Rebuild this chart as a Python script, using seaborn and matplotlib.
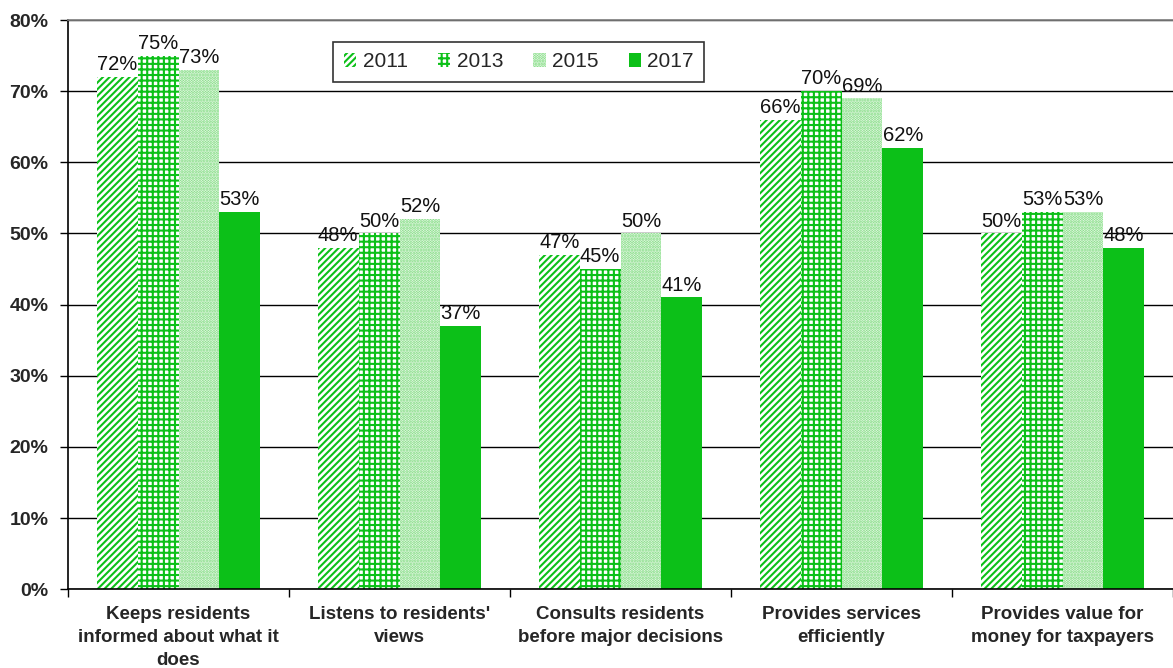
import matplotlib
matplotlib.use("Agg")
import matplotlib.pyplot as plt
import seaborn as sns
import pandas as pd
from matplotlib.ticker import MultipleLocator, FuncFormatter

categories = [
    "Keeps residents\ninformed about what it\ndoes",
    "Listens to residents'\nviews",
    "Consults residents\nbefore major decisions",
    "Provides services\nefficiently",
    "Provides value for\nmoney for taxpayers",
]
years = ["2011", "2013", "2015", "2017"]
v2011 = [72, 48, 47, 66, 50]
v2013 = [75, 50, 45, 70, 53]
v2015 = [73, 52, 50, 69, 53]
v2017 = [53, 37, 41, 62, 48]

rows = []
for yr, vals in zip(years, [v2011, v2013, v2015, v2017]):
    for cat, v in zip(categories, vals):
        rows.append({"category": cat, "year": yr, "value": v})
df = pd.DataFrame(rows)

sns.set_theme(style="white")
plt.rcParams["font.family"] = ["Liberation Sans", "DejaVu Sans"]
plt.rcParams["hatch.linewidth"] = 1.5

green = "#0cc018"
fig = plt.figure(figsize=(11.73, 6.68), dpi=100)
ax = fig.add_axes([0.058, 0.118, 0.942, 0.852])

sns.barplot(data=df, x="category", y="value", hue="year", order=categories,
            hue_order=years, width=0.74, gap=0, palette=[green] * 4,
            saturation=1, ax=ax, legend=False)

styles = {
    "2011": dict(face="white", edge=green, hatch="/////", lw=0),
    "2013": dict(face="white", edge=green, hatch="+++", lw=0),
    "2015": dict(face="#fafefa", edge="#74d874", hatch="......", lw=0),
    "2017": dict(face=green, edge=green, hatch=None, lw=0),
}
for cont, yr in zip(ax.containers, years):
    st = styles[yr]
    for p in cont.patches:
        p.set_facecolor(st["face"])
        p.set_edgecolor(st["edge"])
        p.set_hatch(st["hatch"])
        p.set_linewidth(st["lw"])
    ax.bar_label(cont, fmt="%d%%", padding=2, fontsize=14.5, color="#111111")

ax.set_ylim(0, 80)
ax.set_xlim(-0.5, len(categories) - 0.5)
ax.yaxis.set_major_locator(MultipleLocator(10))
ax.yaxis.set_major_formatter(FuncFormatter(lambda v, _: f"{int(v)}%"))
ax.grid(axis="y", color="black", linewidth=1)
ax.set_axisbelow(True)
ax.set_xlabel("")
ax.set_ylabel("")

for s in ["left", "bottom"]:
    ax.spines[s].set_color("black")
    ax.spines[s].set_linewidth(1.2)
ax.spines["top"].set_color("#808080")
ax.spines["right"].set_visible(False)

ax.tick_params(axis="y", left=True, length=6, width=1, color="black",
               labelsize=14, pad=8)
ax.set_xticks(range(len(categories)))
ax.set_xticklabels(categories, fontsize=13.5, fontweight="bold",
                   linespacing=1.45)
ax.set_xticks([i - 0.5 for i in range(len(categories) + 1)], minor=True)
ax.tick_params(axis="x", which="major", bottom=False, pad=6)
ax.tick_params(axis="x", which="minor", bottom=True, length=6, width=1,
               color="black")
for lab in ax.get_yticklabels():
    lab.set_fontweight("bold")

leg = ax.legend(ax.containers, years, loc="upper center",
                bbox_to_anchor=(0.408, 0.98), ncol=4, fontsize=15,
                frameon=True, fancybox=False, edgecolor="black",
                handlelength=0.6, handleheight=0.6, handletextpad=0.3,
                columnspacing=1.45, borderpad=0.5)
leg.get_frame().set_linewidth(1.2)

fig.savefig("out.png", dpi=100)
